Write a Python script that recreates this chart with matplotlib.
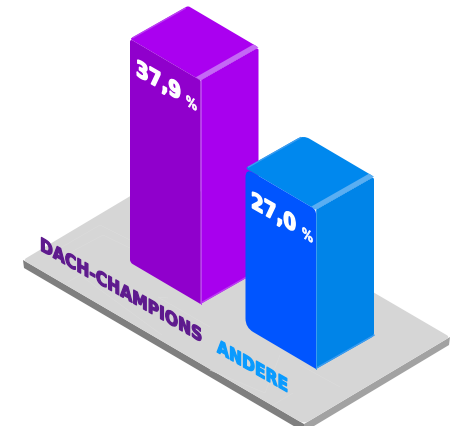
import math
import matplotlib
matplotlib.use("Agg")
import matplotlib.pyplot as plt
from matplotlib.patches import PathPatch, Polygon
from matplotlib.path import Path
from matplotlib.patheffects import AbstractPathEffect
from matplotlib.transforms import Affine2D

# Chart data
categories = ["DACH-CHAMPIONS", "ANDERE"]
shares = [37.9, 27.0]

# Isometric layout, in pixels
PX_PER_UNIT = 5.9
LEFT_VEC = (-70.5, -41.5)
RIGHT_VEC = (58, -33)
bar_feet = [(200.5, 304), (316, 369)]
face_colors = [
    dict(left="#9000CC", right="#A800EE", top="#AA00F0", glow="#C468F5", edge="#BC40F2"),
    dict(left="#0055FF", right="#0084E8", top="#0088EE", glow="#5AAEF2", edge="#3C9CF0"),
]
corner_radius = [3, 9]
back_radius = [2, 7]
label_colors = ["#5E1A8E", "#0A9BFF"]
label_anchor = [(40, 250), (217, 352)]
value_anchor = [(136, 75), (251, 207)]
unit_anchor = [(186, 105), (302, 237)]
SLOPE = 0.57

fig = plt.figure(figsize=(4.57, 4.26), dpi=100)
ax = fig.add_axes([0, 0, 1, 1])
ax.set_xlim(0, 457)
ax.set_ylim(426, 0)
ax.axis("off")


class IsoShear(AbstractPathEffect):
    """Lay rotated text on an isometric plane, with upright verticals and a heavier stroke."""

    def __init__(self, anchor, stretch=1.0, stroke=0.5):
        super().__init__()
        self.anchor = anchor
        self.stretch = stretch
        self.stroke = stroke

    def draw_path(self, renderer, gc, tpath, affine, rgbFace=None):
        x0, y0 = ax.transData.transform(self.anchor)
        theta = math.atan(SLOPE)
        c, s = math.cos(theta), math.sin(theta)
        # maps baseline direction onto itself and the glyph's up direction onto vertical
        to_plane = Affine2D.from_values(c, -s, 0, 1 / c, 0, 0)
        shear = (Affine2D().translate(-x0, -y0) + Affine2D().rotate(theta)
                 + Affine2D().scale(self.stretch, 1) + to_plane
                 + Affine2D().translate(x0, y0))
        gc0 = renderer.new_gc()
        gc0.copy_properties(gc)
        gc0.set_linewidth(self.stroke)
        gc0.set_foreground(rgbFace)
        renderer.draw_path(gc0, tpath, affine + shear, rgbFace)
        gc0.restore()


def iso_text(anchor, text, size, color, stretch=1.0, stroke=0.5):
    angle = -math.degrees(math.atan(SLOPE))
    ax.text(*anchor, text, fontsize=size, color=color, family="DejaVu Sans", weight="bold",
            rotation=angle, rotation_mode="anchor", ha="left", va="baseline",
            path_effects=[IsoShear(anchor, stretch, stroke)], zorder=10)


def rounded(points, radii):
    """Closed path through points with each corner cut by a quadratic curve."""
    verts, codes = [], []
    n = len(points)
    for i, (p, r) in enumerate(zip(points, radii)):
        a, b = points[i - 1], points[(i + 1) % n]
        def toward(q):
            d = math.hypot(q[0] - p[0], q[1] - p[1])
            t = min(r / d, 0.5) if d else 0
            return (p[0] + (q[0] - p[0]) * t, p[1] + (q[1] - p[1]) * t)
        verts += [toward(a), p, toward(b)]
        codes += [Path.MOVETO if i == 0 else Path.LINETO, Path.CURVE3, Path.CURVE3]
    verts.append(verts[0])
    codes.append(Path.CLOSEPOLY)
    return Path(verts, codes)


def add(p, v, k=1.0):
    return (p[0] + v[0] * k, p[1] + v[1] * k)


# Base plate
pl_left, pl_front, pl_right = (23, 260), (304, 424), (450, 337)
pl_back = (169, 173)
T = 8
ax.add_patch(Polygon([pl_left, pl_front, add(pl_front, (0, T)), add(pl_left, (1, T))],
                     fc="#7F7F7F", ec="none", zorder=1))
ax.add_patch(Polygon([pl_front, pl_right, add(pl_right, (-1, T)), add(pl_front, (0, T))],
                     fc="#A2A2A2", ec="none", zorder=1))
ax.add_patch(PathPatch(rounded([pl_left, pl_front, pl_right, pl_back], [4, 6, 4, 4]),
                       fc="#D6D6D6", ec="none", zorder=2))

# Faint engraved outlines on the plate
plate_marks = [
    [(43, 258), (100, 225), (130, 240)],
    [(60, 258), (103, 235), (130, 248)],
    [(68, 282), (80, 275), (162, 335)],
    [(168, 298), (158, 297), (210, 327)],
    [(210, 370), (265, 393), (280, 355)],
    [(300, 365), (340, 387)],
    [(293, 393), (273, 405)],
]
for m in plate_marks:
    ax.plot(*zip(*m), color="#DBDBDB", lw=0.5, zorder=3)

# Bars
for i, value in enumerate(shares):
    c = face_colors[i]
    r = corner_radius[i]
    foot = bar_feet[i]
    lift = (0, -value * PX_PER_UNIT)
    front_top = add(foot, lift)
    left_foot, right_foot = add(foot, LEFT_VEC), add(foot, RIGHT_VEC)
    left_top, right_top = add(left_foot, lift), add(right_foot, lift)
    back_top = add(left_top, RIGHT_VEC)

    ax.add_patch(PathPatch(rounded([front_top, right_top, right_foot, foot], [0, 3, 3, 1]),
                           fc=c["right"], ec="none", zorder=5))
    ax.add_patch(PathPatch(rounded([left_top, back_top, right_top, front_top],
                                   [2, back_radius[i], 3, 2]),
                           fc=c["top"], ec="none", zorder=5))

    # Bevels along the upper edges and the front corner
    ax.add_patch(Polygon([front_top, right_top, add(right_top, (-5, -3)), add(front_top, (-5, -3))],
                         fc=c["glow"], ec="none", zorder=6))
    ax.plot([left_top[0] + 3, back_top[0] - 3], [left_top[1] - 1.2, back_top[1] + 2.5],
            color=c["edge"], lw=1.0, zorder=6)
    ax.plot([foot[0], right_foot[0]], [foot[1] - 0.8, right_foot[1] - 0.8],
            color=c["edge"], lw=1.0, zorder=6)
    ax.plot([foot[0], front_top[0]], [foot[1], front_top[1]],
            color=c["edge"], lw=0.7, zorder=6)

    ax.add_patch(PathPatch(rounded([left_top, front_top, foot, left_foot], [r, r / 2, 1, r]),
                           fc=c["left"], ec="none", zorder=7))

    iso_text(value_anchor[i], f"{value:.1f}".replace(".", ","), 14, "white", stretch=1.08, stroke=1.1)
    iso_text(unit_anchor[i], "%", 9, "white", stretch=1.0, stroke=0.5)
    iso_text(label_anchor[i], categories[i], 11.5, label_colors[i], stretch=1.12, stroke=0.9)

fig.savefig("out.png", dpi=100)
